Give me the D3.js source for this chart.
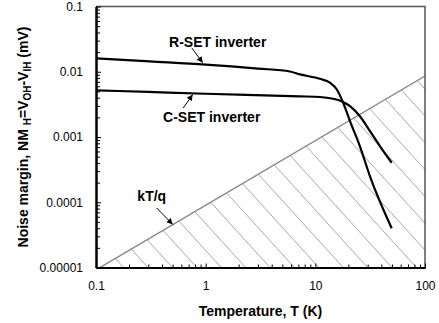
<!DOCTYPE html>
<html>
<head>
<meta charset="utf-8">
<script src="https://cdn.jsdelivr.net/npm/d3@7.9.0/dist/d3.min.js"></script>
<style>
  body { margin: 0; background: #fff; }
  svg text { font-family: Arial, "Liberation Sans", sans-serif; }
</style>
</head>
<body>
<svg id="chart" width="439" height="323"></svg>
<script>
// data (T in K, noise margin in mV)
const rsetT  = [0.1, 0.31, 1, 3, 5.87, 7.24, 11.0, 13.6, 15.7, 17.9, 20.7, 25.5, 31.5, 49.7];
const rsetNM = [0.0160, 0.0144, 0.0129, 0.0112, 0.0101, 0.0091, 0.0078, 0.0068, 0.00535, 0.00338, 0.00175, 0.00072, 0.00025, 0.00004];

const csetT  = [0.1, 0.3, 1, 7.24, 11.0, 14.5, 17.3, 20.7, 25.5, 31.5, 38.9, 49.7];
const csetNM = [0.0052, 0.0049, 0.0046, 0.0042, 0.0041, 0.00385, 0.00354, 0.00297, 0.00208, 0.00123, 0.00072, 0.000403];

// kT/q boundary, straight line in log-log
const ktT  = [0.1, 100];
const ktNM = [9.2e-6, 8.6e-3];

const xTicks = [0.1, 1, 10, 100];
const xTickLabels = ['0.1', '1', '10', '100'];
const yTicks = [0.00001, 0.0001, 0.001, 0.01, 0.1];
const yTickLabels = ['0.00001', '0.0001', '0.001', '0.01', '0.1'];

const width = 439, height = 323;
const margin = { top: 6.5, right: 14, bottom: 55.5, left: 96 };
const svg = d3.select('#chart');

const x = d3.scaleLog().domain([0.1, 100]).range([margin.left, width - margin.right]);
const y = d3.scaleLog().domain([0.00001, 0.1]).range([height - margin.bottom, margin.top]);

const minor = (lo, hi) => {
  const out = [];
  for (let d = lo; d < hi; d *= 10) for (let k = 2; k <= 9; k++) out.push(d * k);
  return out;
};

// clip paths
const defs = svg.append('defs');
defs.append('clipPath').attr('id', 'plot-clip')
  .append('rect')
  .attr('x', x(0.1)).attr('y', y(0.1))
  .attr('width', x(100) - x(0.1)).attr('height', y(0.00001) - y(0.1));

defs.append('clipPath').attr('id', 'hatch-clip')
  .append('path')
  .attr('d', d3.line()([
    [x(ktT[0]), y(ktNM[0])],
    [x(ktT[1]), y(ktNM[1])],
    [x(100), y(0.00001)],
    [x(0.1), y(0.00001)]
  ]) + 'Z');

const marker = defs.append('marker')
  .attr('id', 'arrow')
  .attr('viewBox', '0 0 10 10')
  .attr('refX', 10).attr('refY', 5)
  .attr('markerWidth', 7).attr('markerHeight', 6)
  .attr('markerUnits', 'userSpaceOnUse')
  .attr('orient', 'auto');
marker.append('path').attr('d', 'M0,0L10,5L0,10Z').attr('fill', '#000');

// hatch under kT/q
const hatchGap = 24.4, hatchSlope = 1.1, hatchStart = 148;
const yb = y(0.00001), yt = y(0.1);
const hatch = svg.append('g').attr('clip-path', 'url(#plot-clip)')
  .append('g').attr('clip-path', 'url(#hatch-clip)');
for (let k = -4; k <= 20; k++) {
  const x0 = hatchStart + k * hatchGap;
  hatch.append('line')
    .attr('x1', x0).attr('y1', yb)
    .attr('x2', x0 - (yb - yt) / hatchSlope).attr('y2', yt)
    .attr('stroke', '#a8a8a8').attr('stroke-width', 1);
}

const plot = svg.append('g').attr('clip-path', 'url(#plot-clip)');

// kT/q line
plot.append('path')
  .attr('d', d3.line().x((d, i) => x(ktT[i])).y(d => y(d))(ktNM))
  .attr('fill', 'none').attr('stroke', '#858585').attr('stroke-width', 1.4);

const curve = d3.line()
  .x(d => x(d[0])).y(d => y(d[1]))
  .curve(d3.curveMonotoneX);

plot.append('path')
  .attr('d', curve(rsetT.map((t, i) => [t, rsetNM[i]])))
  .attr('fill', 'none').attr('stroke', '#000').attr('stroke-width', 2.2);

plot.append('path')
  .attr('d', curve(csetT.map((t, i) => [t, csetNM[i]])))
  .attr('fill', 'none').attr('stroke', '#000').attr('stroke-width', 2.2);

// frame top/right
svg.append('path')
  .attr('d', `M${x(0.1)},${y(0.1)}H${x(100)}V${y(0.00001)}`)
  .attr('fill', 'none').attr('stroke', '#555').attr('stroke-width', 1.5);

// axes
const xAxis = svg.append('g').attr('transform', `translate(0,${y(0.00001)})`);
xAxis.call(d3.axisBottom(x).tickValues(minor(0.1, 100)).tickSizeInner(-3).tickSizeOuter(0).tickFormat(''));
xAxis.append('g').call(d3.axisBottom(x).tickValues(xTicks).tickSizeInner(-4).tickSizeOuter(0).tickPadding(14)
  .tickFormat((d, i) => xTickLabels[i]));

const yAxis = svg.append('g').attr('transform', `translate(${x(0.1)},0)`);
yAxis.call(d3.axisLeft(y).tickValues(minor(0.00001, 0.1)).tickSizeInner(-4).tickSizeOuter(0).tickFormat(''));
yAxis.append('g').call(d3.axisLeft(y).tickValues(yTicks).tickSizeInner(-5).tickSizeOuter(0).tickPadding(13)
  .tickFormat((d, i) => yTickLabels[i]));

svg.selectAll('.tick line').attr('stroke', '#000').attr('stroke-width', 1);
svg.selectAll('.domain').attr('stroke', '#000').attr('stroke-width', 2);
svg.selectAll('.tick text')
  .attr('font-family', 'Arial, "Liberation Sans", sans-serif')
  .attr('font-size', 12).attr('fill', '#000');

// axis titles
svg.append('text')
  .attr('x', (x(0.1) + x(100)) / 2).attr('y', 316)
  .attr('text-anchor', 'middle')
  .attr('font-size', 14).attr('font-weight', 'bold')
  .text('Temperature, T (K)');

const yTitle = svg.append('text')
  .attr('transform', `translate(28,${(y(0.1) + y(0.00001)) / 2}) rotate(-90)`)
  .attr('text-anchor', 'middle')
  .attr('font-size', 14).attr('font-weight', 'bold');
const parts = [
  ['Noise margin, NM ', false], ['H', true], ['=V', false], ['OH', true],
  ['-V', false], ['IH', true], [' (mV)', false]
];
parts.forEach(([t, sub]) => {
  const ts = yTitle.append('tspan').text(t);
  if (sub) ts.attr('font-size', 10).attr('dy', 3);
  else ts.attr('dy', 0);
});
// reset baseline after each subscript
yTitle.selectAll('tspan').each(function (d, i) {
  if (i > 0 && parts[i - 1][1] && !parts[i][1]) d3.select(this).attr('dy', -3);
});

// annotations: arrow tip in data space, tail and label as pixel offsets
const notes = [
  { label: 'R-SET inverter', tip: [0.94, 0.0137], tail: [-11, -15], text: [15, -16] },
  { label: 'C-SET inverter', tip: [0.762, 0.00448], tail: [-9.5, 13.5], text: [19, 27.5] },
  { label: 'kT/q', tip: [0.501, 0.0000456], tail: [-16, -16.5], text: [-21, -23.5] }
];
notes.forEach(n => {
  const tx = x(n.tip[0]), ty = y(n.tip[1]);
  svg.append('line')
    .attr('x1', tx + n.tail[0]).attr('y1', ty + n.tail[1])
    .attr('x2', tx).attr('y2', ty)
    .attr('stroke', '#000').attr('stroke-width', 1)
    .attr('marker-end', 'url(#arrow)');
  svg.append('text')
    .attr('x', tx + n.text[0]).attr('y', ty + n.text[1])
    .attr('text-anchor', 'middle')
    .attr('font-size', 14).attr('font-weight', 'bold')
    .text(n.label);
});
</script>
</body>
</html>
